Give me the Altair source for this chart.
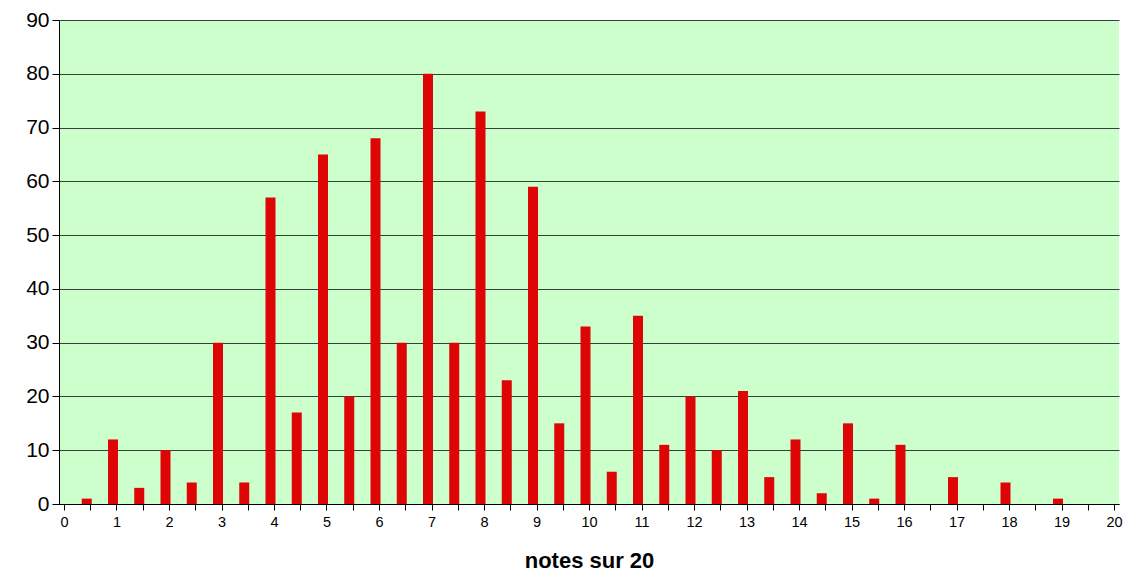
import altair as alt
import pandas as pd

notes = [0.5, 1, 1.5, 2, 2.5, 3, 3.5, 4, 4.5, 5, 5.5, 6, 6.5, 7, 7.5, 8, 8.5, 9, 9.5,
         10, 10.5, 11, 11.5, 12, 12.5, 13, 13.5, 14, 14.5, 15, 15.5, 16, 17, 18, 19]
effectifs = [1, 12, 3, 10, 4, 30, 4, 57, 17, 65, 20, 68, 30, 80, 30, 73, 23, 59, 15,
             33, 6, 35, 11, 20, 10, 21, 5, 12, 2, 15, 1, 11, 5, 4, 1]
x_ticks = [i / 2 for i in range(0, 41)]
y_ticks = list(range(0, 91, 10))

df = pd.DataFrame({"note": notes, "effectif": effectifs})

chart = alt.Chart(df).mark_bar(color="#DD0505", size=10, xOffset=-3.5).encode(
    x=alt.X("note:Q",
            scale=alt.Scale(domain=[0, 20], nice=False, zero=True),
            axis=alt.Axis(values=x_ticks, title="notes sur 20",
                          labelExpr="datum.value % 1 == 0 ? format(datum.value, 'd') : ''",
                          labelFontSize=14.5, labelFont="Liberation Sans", labelColor="black",
                          labelPadding=5, tickSize=6, tickColor="black", domainColor="black",
                          titleFontSize=22, titleFont="Liberation Sans", titleFontWeight="bold",
                          titleColor="black", titlePadding=22, grid=False, labelOverlap=False)),
    y=alt.Y("effectif:Q",
            scale=alt.Scale(domain=[0, 90], nice=False),
            axis=alt.Axis(values=y_ticks, title=None, grid=True, gridColor="#34403a",
                          gridOpacity=1, gridWidth=1,
                          labelFontSize=21, labelFont="Liberation Sans", labelColor="black",
                          labelPadding=3, tickSize=7, tickColor="black", domainColor="black")),
).properties(
    width=1060, height=484,
    autosize=alt.AutoSizeParams(type="none"),
    padding={"left": 51, "top": 12, "right": 9, "bottom": 74},
).configure(background="white").configure_view(fill="#CCFFCC", stroke=None)

chart.save("out.html", embed_options={"renderer": "svg", "actions": False})
